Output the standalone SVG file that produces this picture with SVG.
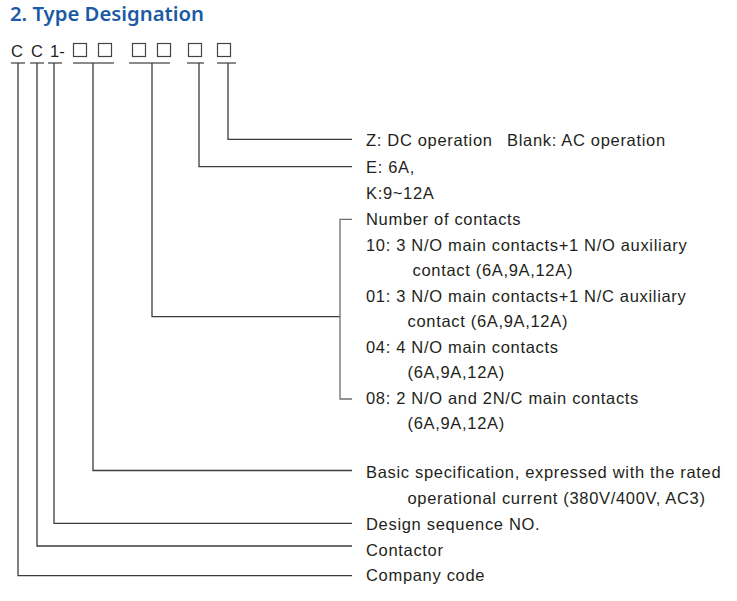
<svg xmlns="http://www.w3.org/2000/svg" width="737" height="601" viewBox="0 0 737 601">
<style>
.t{font-family:"Liberation Sans",Arial,sans-serif;font-size:16.5px;letter-spacing:0.68px;fill:#231f20}
.title{font-family:"Noto Sans","Open Sans",sans-serif;font-size:20.3px;font-weight:600;fill:#1c5aa6}
.code{font-family:"Liberation Sans",Arial,sans-serif;font-size:16.5px;fill:#231f20}
.ln{fill:none;stroke:#3c3c3c;stroke-width:1.3}
.br{fill:none;stroke:#6e6e6e;stroke-width:1.3}
.ul{fill:none;stroke:#666;stroke-width:1.3}
.sq{fill:none;stroke:#444;stroke-width:1.2}
</style>
<rect width="737" height="601" fill="#fff"/>
<text class="title" x="10" y="21">2. Type Designation</text>
<g id="code">
<text class="code" x="11" y="57">C</text>
<text class="code" x="31" y="57">C</text>
<text class="code" x="50" y="57">1-</text>
<rect class="sq" x="73.5" y="43.5" width="13" height="13"/>
<rect class="sq" x="98.5" y="43.5" width="13" height="13"/>
<rect class="sq" x="132.5" y="43.5" width="13" height="13"/>
<rect class="sq" x="157.5" y="43.5" width="13" height="13"/>
<rect class="sq" x="188.5" y="43.5" width="13" height="13"/>
<rect class="sq" x="217.5" y="43.5" width="13" height="13"/>
<path class="ul" d="M11 63H25M30 63H44M48 63H62M73 63H114M129 63H170M187 63H204M217 63H236"/>
</g>
<g id="connectors">
<path class="ln" d="M18 63V575.7H352"/>
<path class="ln" d="M37 63V546H352"/>
<path class="ln" d="M54 63V523.3H352"/>
<path class="ln" d="M93 63V470.5H352"/>
<path class="ln" d="M152 63V316.7H340"/>
<path class="br" d="M352 219.3H340V399H352"/>
<path class="ln" d="M199 63V166.7H352"/>
<path class="ln" d="M228 63V139.3H352"/>
</g>
<g id="node-operation">
<text class="t" x="366" y="146">Z: DC operation<tspan x="507">Blank: AC operation</tspan></text>
</g>
<g id="node-current">
<text class="t" x="366" y="173">E: 6A,</text>
<text class="t" x="366" y="199">K:9~12A</text>
</g>
<g id="node-contacts">
<text class="t" x="366" y="225">Number of contacts</text>
<text class="t" x="366" y="250.5">10: 3 N/O main contacts+1 N/O auxiliary</text>
<text class="t" x="412.5" y="276">contact (6A,9A,12A)</text>
<text class="t" x="366" y="302">01: 3 N/O main contacts+1 N/C auxiliary</text>
<text class="t" x="407.5" y="327">contact (6A,9A,12A)</text>
<text class="t" x="366" y="352.5">04: 4 N/O main contacts</text>
<text class="t" x="407.5" y="378">(6A,9A,12A)</text>
<text class="t" x="366" y="403.5">08: 2 N/O and 2N/C main contacts</text>
<text class="t" x="407.5" y="429">(6A,9A,12A)</text>
</g>
<g id="node-basic">
<text class="t" x="366" y="478">Basic specification, expressed with the rated</text>
<text class="t" x="407.5" y="503.5">operational current (380V/400V, AC3)</text>
</g>
<g id="node-design">
<text class="t" x="366" y="530">Design sequence NO.</text>
</g>
<g id="node-contactor">
<text class="t" x="366" y="556">Contactor</text>
</g>
<g id="node-company">
<text class="t" x="366" y="580.5">Company code</text>
</g>
</svg>
